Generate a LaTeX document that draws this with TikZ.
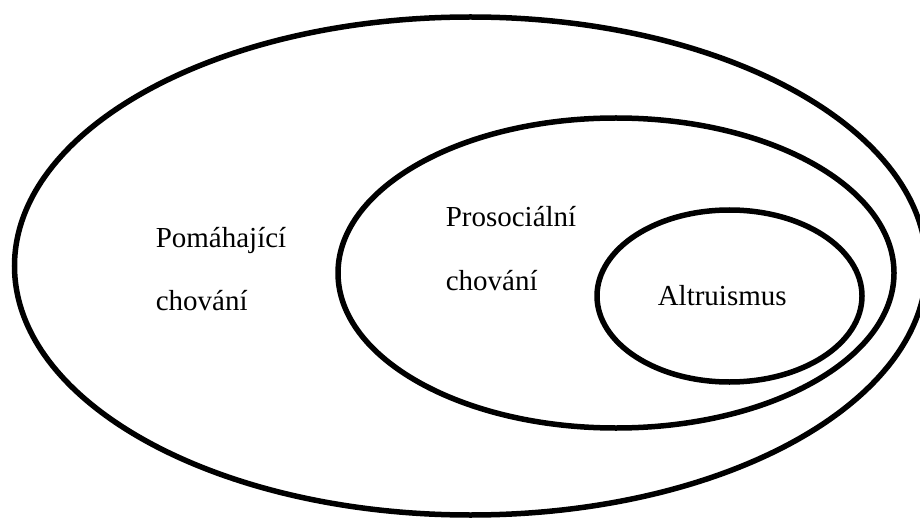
\documentclass[tikz,border=0pt]{standalone}
\usepackage{fontspec}
\setmainfont{Liberation Serif}
\usepackage{tikz}

\begin{document}
\begin{tikzpicture}[x=0.5pt,y=-0.5pt,line width=2.75pt,
  lbl/.style={anchor=base west,inner sep=0pt,font=\fontsize{14.5}{17}\selectfont}]
\useasboundingbox (0,0) rectangle (920,518);
\clip (0,0) rectangle (920,518);
\draw (470.5,266) ellipse [x radius=456, y radius=249];
\draw (616,273) ellipse [x radius=278, y radius=155];
\draw (729.5,296) ellipse [x radius=132.5, y radius=86];
\node[lbl] (p1) at (153,248) {Pomáhající};
\node[lbl] (p2) at (153,310) {chování};
\node[lbl] (s1) at (443,227) {Prosociální};
\node[lbl] (s2) at (443,290) {chování};
\node[lbl] (a1) at (655,305) {Altruismus};
\end{tikzpicture}
\end{document}
